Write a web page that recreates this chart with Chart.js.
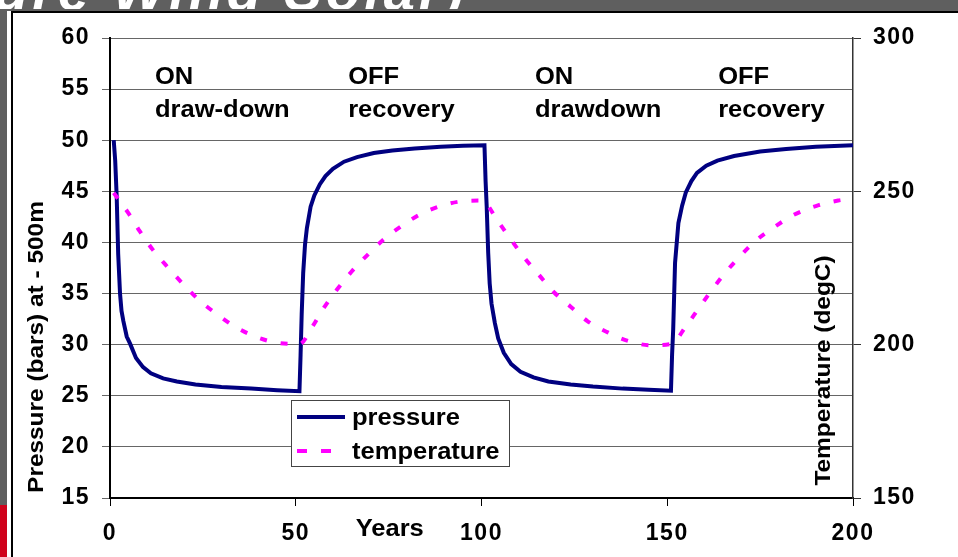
<!DOCTYPE html>
<html>
<head>
<meta charset="utf-8">
<script src="https://cdn.jsdelivr.net/npm/chart.js@4.4.1/dist/chart.umd.min.js"></script>
<style>
  html, body { margin: 0; padding: 0; }
  body { width: 958px; height: 557px; background: #5f5f5f; position: relative; overflow: hidden; }
  #slideTitle { position: absolute; left: 0; top: 0; width: 958px; height: 9px; overflow: hidden; }
  #slideTitle span { position: absolute; left: -6px; top: -42px; line-height: 56px; font: italic bold 56px "Liberation Sans", Arial, sans-serif; color: #fff; letter-spacing: 4px; white-space: nowrap; }
  #redBar { position: absolute; left: 0; top: 505px; width: 7px; height: 52px; background: #d0021b; }
  #panel { position: absolute; left: 7px; top: 11px; right: 0; bottom: 0; background: #fff; }
  #frame { position: absolute; left: 11px; top: 11px; right: 0; bottom: 0; border-left: 2px solid #000; border-top: 2px solid #000; }
  canvas { position: absolute; left: 0; top: 0; }
</style>
</head>
<body>
<div id="slideTitle"><span>ure Wind Solar)</span></div>
<div id="redBar"></div>
<div id="panel"></div>
<div id="frame"></div>
<canvas id="geoChart" width="958" height="557"></canvas>
<script>
const pressureYears = [1, 1.4, 1.8, 2.2, 2.7, 3.1, 3.6, 4.5, 5.4, 7, 8.9, 11, 14.3, 18, 23, 30, 38, 45, 51,
  51.3, 51.6, 52, 52.5, 53, 54, 55, 56.5, 58, 60, 63, 66.5, 71, 76, 82, 89, 95, 100.8,
  101.1, 101.4, 101.8, 102.2, 102.7, 103.6, 104.5, 106, 108, 110.5, 114, 118, 124, 130, 138, 145, 151,
  151.3, 151.6, 152.1, 153, 154, 155, 156.5, 158, 160.5, 163.5, 168, 175, 182, 190, 200];
const pressureBars = [50, 48, 44.5, 38.9, 35, 33.3, 32.3, 30.8, 30.1, 28.7, 27.8, 27.2, 26.7, 26.4, 26.1, 25.85, 25.7, 25.55, 25.45,
  29, 33, 37, 39.8, 41.4, 43.5, 44.6, 45.7, 46.5, 47.2, 47.9, 48.35, 48.75, 49, 49.2, 49.35, 49.45, 49.5,
  46, 43.5, 39, 36, 34, 32.1, 30.6, 29.2, 28.1, 27.35, 26.8, 26.4, 26.1, 25.9, 25.7, 25.6, 25.5,
  29, 31.5, 38, 41.9, 43.6, 44.9, 46, 46.8, 47.5, 48, 48.45, 48.9, 49.15, 49.35, 49.5];

const tempYears = [1, 5, 8, 11.5, 15.5, 19.5, 24, 28.5, 33.5, 39, 45, 51,
  54.5, 57.5, 61, 65, 69, 73.5, 78.5, 83.5, 89, 95, 100,
  104.5, 108, 111.5, 115.5, 119.5, 124, 128.5, 134, 139.5, 145.5, 151,
  155, 158.5, 162, 165.5, 169.5, 174, 179, 184, 190, 196, 199];
const tempDegC = [249.5, 242.8, 237, 231, 225.3, 220, 214.5, 210.2, 206, 202.7, 200.6, 200.2,
  205.9, 211.9, 217.8, 223.8, 228.9, 234.1, 238.7, 242.5, 245.2, 246.8, 247,
  240.1, 234.1, 228.4, 222.7, 217.1, 212.4, 207.7, 204, 201.2, 199.8, 200.2,
  205.9, 211.9, 217.8, 223.3, 228.7, 234.1, 238.5, 242.3, 245.2, 247, 247.5];

const yearTicks = [0, 50, 100, 150, 200];
const pressureTicks = [15, 20, 25, 30, 35, 40, 45, 50, 55, 60];
const tempTicks = [150, 200, 250, 300];

const phaseTop = ['ON', 'OFF', 'ON', 'OFF'];
const phaseBottom = ['draw-down', 'recovery', 'drawdown', 'recovery'];
const seriesNames = ['pressure', 'temperature'];

const FONT = '"Liberation Sans", Arial, sans-serif';
const tickFont = { family: FONT, size: 23, weight: 'bold' };

// espacement des lettres pour les graduations (le texte d'origine est étiré)
const spacing = {
    id: 'spacing',
    beforeUpdate: (chart) => { chart.ctx.letterSpacing = '1.5px'; },
    beforeDraw: (chart) => { chart.ctx.letterSpacing = '1.5px'; }
};

// texte étiré horizontalement comme sur l'image d'origine
const stretchText = (ctx, text, x, y, align, angle) =>{
    ctx.save();
    ctx.translate(x, y);
    if (angle) ctx.rotate(angle);
    ctx.scale(1.11, 1);
    ctx.textAlign = align;
    ctx.fillText(text, 0, 0);
    ctx.restore();
}

// Titres des axes, annotations et légende
const decor = {
    id: 'decor',
    afterDraw: (chart) => {
        const ctx = chart.ctx;
        const xs = chart.scales.x;
        const ys = chart.scales.y;
        const area = chart.chartArea;
        const ds = chart.data.datasets;

        ctx.save();
        ctx.fillStyle = '#000';
        ctx.letterSpacing = '0px';
        ctx.textBaseline = 'alphabetic';
        ctx.font = 'bold 23px ' + FONT;

        // ON / OFF
        const starts = [12.1, 64.1, 114.4, 163.7];
        for (let i = 0; i < phaseTop.length; i++){
            stretchText(ctx, phaseTop[i], xs.getPixelForValue(starts[i]), ys.getPixelForValue(55.5), 'left');
            stretchText(ctx, phaseBottom[i], xs.getPixelForValue(starts[i]), ys.getPixelForValue(52.27), 'left');
        }

        // Years
        stretchText(ctx, 'Years', xs.getPixelForValue(75.3), area.bottom + 38, 'center');

        // titres des axes verticaux
        ctx.font = 'bold 22px ' + FONT;
        stretchText(ctx, 'Pressure (bars) at - 500m', 43, area.bottom - 151, 'center', -Math.PI / 2);
        stretchText(ctx, 'Temperature (degC)', area.right - 23, area.bottom - 127.5, 'center', -Math.PI / 2);

        // légende
        const lx = Math.round(xs.getPixelForValue(48.7));
        const ly = Math.round(ys.getPixelForValue(24.6));
        ctx.fillStyle = '#fff';
        ctx.fillRect(lx, ly, 218, 66);
        ctx.strokeStyle = '#444';
        ctx.lineWidth = 1;
        ctx.strokeRect(lx + 0.5, ly + 0.5, 218, 66);

        ctx.lineWidth = 4;
        ctx.strokeStyle = ds[0].borderColor;
        ctx.beginPath();
        ctx.moveTo(lx + 6, ly + 17);
        ctx.lineTo(lx + 54, ly + 17);
        ctx.stroke();

        ctx.strokeStyle = ds[1].borderColor;
        ctx.setLineDash([10, 14]);
        ctx.beginPath();
        ctx.moveTo(lx + 6, ly + 51);
        ctx.lineTo(lx + 44, ly + 51);
        ctx.stroke();
        ctx.setLineDash([]);

        ctx.fillStyle = '#000';
        ctx.font = 'bold 23px ' + FONT;
        stretchText(ctx, seriesNames[0], lx + 61, ly + 25, 'left');
        stretchText(ctx, seriesNames[1], lx + 61, ly + 59, 'left');
        ctx.restore();
    }
};

const makeXY = (xs, ys) => xs.map((v, i) => ({ x: v, y: ys[i] }));

const geoGraph = () =>{
    const ctx = document.getElementById('geoChart');

    const data = {
        datasets: [
            {
                label: seriesNames[0],
                data: makeXY(pressureYears, pressureBars),
                yAxisID: 'y',
                borderColor: '#000080',
                borderWidth: 4,
                pointRadius: 0,
                tension: 0,
                fill: false,
                order: 1
            },
            {
                label: seriesNames[1],
                data: makeXY(tempYears, tempDegC),
                yAxisID: 'y2',
                borderColor: '#ff00ff',
                borderWidth: 4,
                borderDash: [7, 14],
                pointRadius: 0,
                cubicInterpolationMode: 'monotone',
                fill: false,
                order: 0
            }
        ]
    };

    new Chart(ctx, {
        type: 'line',
        data: data,
        plugins: [spacing, decor],
        options: {
            responsive: false,
            animation: false,
            devicePixelRatio: 1,
            layout: { padding: { top: 38, left: 0, right: 0, bottom: 0 } },
            scales: {
                x: {
                    type: 'linear',
                    position: 'bottom',
                    min: 0,
                    max: 200,
                    afterBuildTicks: (s) => { s.ticks = yearTicks.map(v => ({ value: v })); },
                    afterFit: (s) => { s.height = 59; },
                    ticks: { font: tickFont, color: '#000', padding: 14, autoSkip: false, maxRotation: 0 },
                    grid: { drawOnChartArea: false, tickLength: 8, tickColor: '#000' },
                    border: { color: '#000', width: 2 }
                },
                y: {
                    type: 'linear',
                    position: 'left',
                    min: 15,
                    max: 60,
                    afterBuildTicks: (s) => { s.ticks = pressureTicks.map(v => ({ value: v })); },
                    afterFit: (s) => { s.width = 110; },
                    ticks: { font: tickFont, color: '#000', padding: 12, autoSkip: false },
                    grid: { color: '#666', lineWidth: 1, tickLength: 8, tickColor: '#666' },
                    border: { color: '#000', width: 2 }
                },
                y2: {
                    type: 'linear',
                    position: 'right',
                    min: 150,
                    max: 300,
                    afterBuildTicks: (s) => { s.ticks = tempTicks.map(v => ({ value: v })); },
                    afterFit: (s) => { s.width = 105; },
                    ticks: { font: tickFont, color: '#000', padding: 12, autoSkip: false },
                    grid: { drawOnChartArea: false, tickLength: 8, tickColor: '#333' },
                    border: { color: '#333', width: 1.5 }
                }
            },
            plugins: {
                legend: { display: false },
                tooltip: { enabled: false },
                title: { display: false }
            }
        }
    });
}

geoGraph();
</script>
</body>
</html>
